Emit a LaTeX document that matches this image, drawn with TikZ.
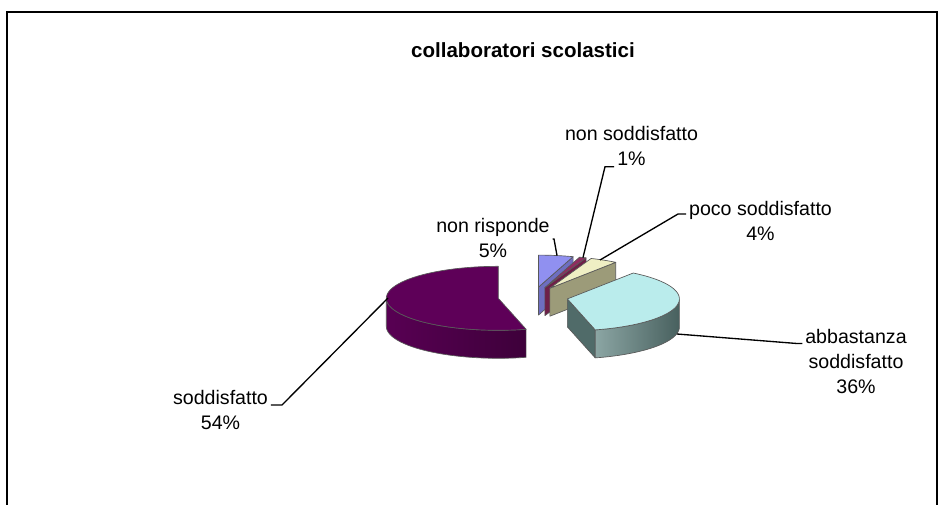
\documentclass[tikz,border=0pt]{standalone}
\usepackage{fontspec}
\setmainfont{Liberation Sans}
\definecolor{nrtop}{HTML}{9090F0}
\definecolor{nrside}{HTML}{6E6EC0}
\definecolor{nstop}{HTML}{902D60}
\definecolor{nsside}{HTML}{6E2048}
\definecolor{pstop}{HTML}{EFEFC4}
\definecolor{psside}{HTML}{9C9B79}
\definecolor{abtop}{HTML}{BAECEC}
\definecolor{abcut}{HTML}{506B69}
\definecolor{abside}{HTML}{9AB4B2}
\definecolor{sotop}{HTML}{5E0058}
\definecolor{soside}{HTML}{580053}

\begin{document}
\begin{tikzpicture}[x=0.75pt,y=-0.75pt,
        lbl/.style={font=\fontsize{14.7}{18.75}\selectfont, align=center, inner xsep=2pt, inner ysep=0pt, anchor=north},
        face/.style={draw=black!65, line width=0.5pt, line join=round},
        leader/.style={draw=black, line width=1pt}]
        \useasboundingbox (0,0) rectangle (944,504);
        \draw[line width=1.1pt] (7,520) -- (7,12) -- (937,12) -- (937,520);
        \node[font=\bfseries\fontsize{15.4}{18}\selectfont, anchor=base] (titolo) at (523,57.3) {collaboratori scolastici};
        % non risponde 5%
        \filldraw[face, fill=nrside] (538.5,287.1) -- ({538.5+112*cos(72)},{287.1-32*sin(72)}) -- ++(0,28) -- (538.5,315.1) -- cycle;
        \filldraw[face, fill=nrtop] (538.5,287.1) -- plot[domain=72:90, samples=8] ({538.5+112*cos(\x)},{287.1-32*sin(\x)}) -- cycle;
        % non soddisfatto 1%
        \filldraw[face, fill=nsside] (544.9,287.6) -- ({544.9+112*cos(68.4)},{287.6-32*sin(68.4)}) -- ++(0,28) -- (544.9,315.6) -- cycle;
        \filldraw[face, fill=nstop] (544.9,287.6) -- plot[domain=68.4:72, samples=4] ({544.9+112*cos(\x)},{287.6-32*sin(\x)}) -- cycle;
        % poco soddisfatto 4%
        \filldraw[face, fill=psside] (549.9,288.2) -- ({549.9+112*cos(54)},{288.2-32*sin(54)}) -- ++(0,28) -- (549.9,316.2) -- cycle;
        \filldraw[face, fill=pstop] (549.9,288.2) -- plot[domain=54:68.4, samples=8] ({549.9+112*cos(\x)},{288.2-32*sin(\x)}) -- cycle;
        % abbastanza soddisfatto 36%
        \filldraw[face, fill=abcut] (567.4,298.9) -- ({567.4+112*cos(-75.6)},{298.9-32*sin(-75.6)}) -- ++(0,28) -- (567.4,326.9) -- cycle;
        \shadedraw[face, left color=abside!80!abcut, middle color=abside, right color=abcut!90!black] plot[domain=-75.6:0, samples=30] ({567.4+112*cos(\x)},{298.9-32*sin(\x)}) -- plot[domain=0:-75.6, samples=30] ({567.4+112*cos(\x)},{326.9-32*sin(\x)}) -- cycle;
        \filldraw[face, fill=abtop] (567.4,298.9) -- plot[domain=-75.6:54, samples=50] ({567.4+112*cos(\x)},{298.9-32*sin(\x)}) -- cycle;
        % soddisfatto 54%
        \shadedraw[face, left color=soside, right color=soside!70!black] plot[domain=180:284.4, samples=40] ({498.3+112*cos(\x)},{298.3-32*sin(\x)}) -- plot[domain=284.4:180, samples=40] ({498.3+112*cos(\x)},{326.3-32*sin(\x)}) -- cycle;
        \filldraw[face, fill=sotop] (498.3,298.3) -- plot[domain=90:284.4, samples=60] ({498.3+112*cos(\x)},{298.3-32*sin(\x)}) -- cycle;
        % etichette
        \node[lbl] (lsod) at (220.5,390) {soddisfatto\\54\%};
        \node[lbl] (lab) at (856,329.5) {abbastanza\\soddisfatto\\36\%};
        \node[lbl] (lpoco) at (760.5,201) {poco soddisfatto\\4\%};
        \node[lbl] (lns) at (631.5,126.5) {non soddisfatto\\1\%};
        \node[lbl] (lnr) at (493,217.7) {non risponde\\5\%};
        \coordinate (psod) at (388,298);
        \coordinate (ksod) at (282,405);
        \coordinate (pab) at (677,334);
        \coordinate (kab) at (797,343.5);
        \coordinate (ppo) at (600,260);
        \coordinate (kpo) at (678,214);
        \coordinate (pns) at (583,257.5);
        \coordinate (kns) at (605,166.7);
        \coordinate (ens) at (614,166.7);
        \coordinate (pnr) at (557,255.5);
        \coordinate (knr) at (554,239);
        \draw[leader] (psod) -- (ksod) -- (lsod.east |- ksod);
        \draw[leader] (pab) -- (kab) -- (lab.west |- kab);
        \draw[leader] (ppo) -- (kpo) -- (lpoco.west |- kpo);
        \draw[leader] (pns) -- (kns) -- (ens);
        \draw[leader] (pnr) -- (knr) -- (lnr.east |- knr);
\end{tikzpicture}
\end{document}
